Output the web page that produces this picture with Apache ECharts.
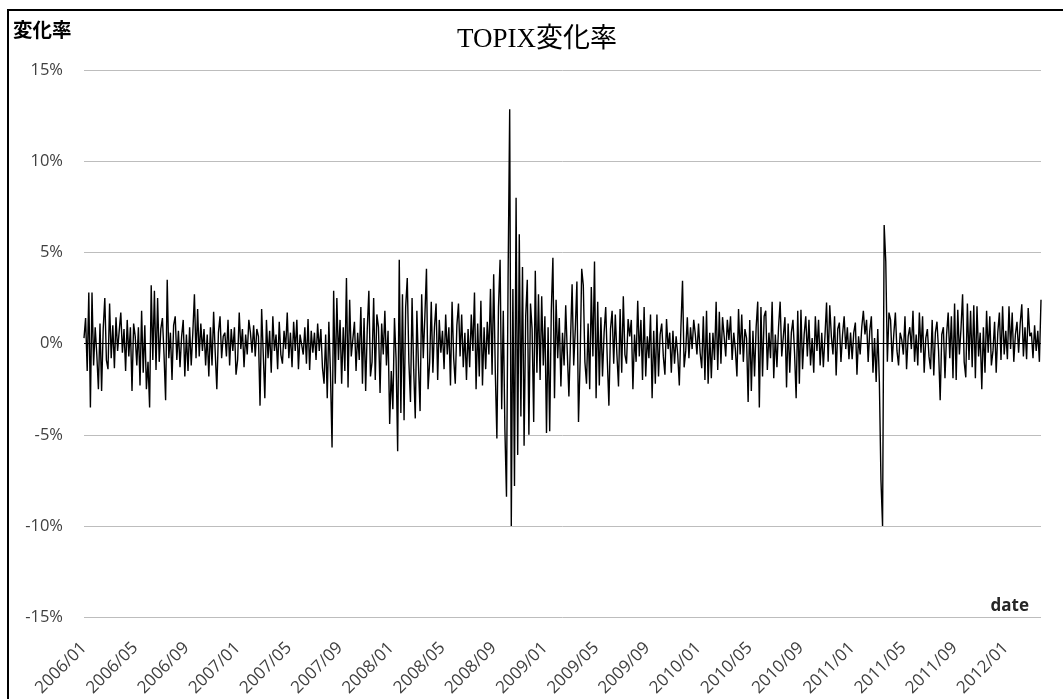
<!DOCTYPE html>
<html>
<head>
<meta charset="utf-8">
<script src="https://cdn.jsdelivr.net/npm/echarts@6/dist/echarts.min.js"></script>
<style>
html,body{margin:0;padding:0;background:#fff;}
#chart{width:1063px;height:699px;}
</style>
</head>
<body>
<div id="chart"></div>
<script>
const v2006 = [
 0.3, 1.4, -1.5, 2.8, -3.5, 2.8, -1.2, 0.9,
 -0.6, -2.5, 1.1, -2.6, 0.8, 2.5, -0.9, -1.4,
 2.2, -0.8, 1.0, -1.35, 1.45, -0.4, 0.7, 1.7,
 -0.5, 0.8, -1.5, 1.3, -0.7, 0.9, -2.6, 1.1,
 0.4, -1.2, 0.9, -2.3, 1.8, -1.6, 1.0, -2.5,
 -1.0, -3.5, 3.2, -0.9, 2.9, -1.45, 2.5, -1.0,
 0.8, 1.4, -0.6, -3.1, 3.5, -0.8, 0.6, -2.0,
 1.0, 1.5, -0.9, 0.7, -1.3, 0.4, 1.3, -1.8,
 0.5, -1.5, 0.9, -1.2, 0.6, 2.7, -0.8, 1.9,
 -0.7, 1.1, -0.4, 0.8, -1.2, 0.5, -1.8, 0.9,
 -1.2, 1.75, -0.5, -2.5, 0.6, 1.5, -0.8, 0.4,
 0.6, -0.7, 1.3, -1.2, 0.8, -0.4, 0.9, -1.7
];
const v2007 = [
 -0.9, 1.7, -0.3, 0.8, -1.3, 0.5, -0.6, 1.3,
 0.6, -0.5, 1.0, -0.7, 0.8, 0.4, -3.4, 1.9,
 1.8, -3.0, 1.3, -0.8, 0.7, -1.6, 1.5, -0.4,
 0.5, -1.4, 1.2, -0.6, -1.1, 0.7, -0.3, 1.7,
 -0.8, 0.6, -1.3, 1.2, -0.4, 1.3, -1.4, 0.5,
 0.4, -0.6, 0.9, -1.1, 1.35, -1.45, 0.7, -0.5,
 0.6, -0.9, 1.1, -0.4, 0.8, -1.3, -2.2, 0.5,
 -3.0, 1.2, -1.6, -5.7, 2.9, -2.2, 2.5, -0.9,
 1.3, -2.2, 0.9, -1.5, 3.6, -2.4, 2.4, -0.7,
 -0.8, 1.2, -1.5, 0.6, -0.9, 2.0, -2.2, 1.4,
 -2.6, 0.8, 2.9, -1.8, -1.0, 2.5, -2.0, 1.6,
 0.9, -2.7, 1.1, -0.6, 1.8, -1.2, 0.7, -4.4
];
const v2008 = [
 -1.5, -3.6, 1.4, -0.8, -5.9, 4.6, -3.8, 2.7,
 -4.2, 2.0, 3.6, -1.0, -3.2, 2.5, -1.4, -4.1,
 1.8, -1.2, -3.7, 2.7, -0.8, 1.5, 4.1, -2.5,
 -1.0, 2.3, -1.6, 0.9, 2.2, -2.0, 1.3, -0.5,
 0.7, -1.4, 1.6, -0.6, 0.9, -2.3, 2.3, -0.8,
 -2.2, 1.0, 2.2, -0.7, 1.6, -1.3, 0.6, -2.0,
 0.8, -1.3, 1.6, -0.4, 2.8, -2.5, 1.1, -1.8,
 2.35, -2.3, 0.9, -1.4, 1.2, -0.6, 3.0, -1.7,
 3.8, -1.5, -5.2, 2.0, 4.6, -3.6, 1.8, -4.7,
 -8.4, 3.6, 12.85, -10.0, 3.0, -7.8, 8.0, -6.1,
 6.0, -4.0, 4.2, -5.6, 1.5, 3.5, -5.0, 2.2,
 0.8, -4.3, 4.0, -1.6, 2.7, -2.0, 2.6, -1.2
];
const v2009 = [
 1.5, -4.9, 0.9, -4.8, 1.8, 4.7, -3.0, 2.4,
 -0.8, 1.4, -2.35, 0.6, -1.2, 2.1, -0.5, -2.9,
 -3.0, 3.25, -1.2, 0.8, 3.4, -4.3, -1.0, 4.1,
 3.2, -1.0, -2.2, 1.1, -2.5, 3.1, -0.7, 4.5,
 -3.0, 2.3, -2.3, 1.45, -1.8, 0.6, 2.0, -0.9,
 -3.4, 0.8, 1.8, -1.1, 1.6, -0.6, -2.35, 1.9,
 -1.6, 2.6, -0.6, -1.1, 1.35, 0.4, 1.3, -2.5,
 0.5, -1.0, 2.35, -0.7, 1.3, -2.0, 2.0, -1.8,
 0.4, -0.8, 1.6, -3.0, 0.7, -2.2, 1.6, -1.8,
 0.5, 1.1, -0.7, -1.7, 1.35, -0.3, 0.6, -1.6,
 0.7, -1.1, 0.4, -0.6, -2.3, 0.9, 3.45, -1.3,
 -0.4, 1.45, -0.8, 0.9, -0.3, 1.3, 0.5, -0.6
];
const v2010 = [
 1.1, -0.5, -1.35, 1.5, -2.0, 1.8, -2.2, 0.6,
 -1.9, 0.6, -0.9, 2.3, -1.45, 1.75, -1.1, 1.45,
 0.4, -0.7, 1.3, 0.2, 1.5, -0.9, 0.6, -0.3,
 -1.8, 1.9, -0.6, 1.6, -1.0, 0.8, 0.3, -3.2,
 1.3, -2.6, 0.7, -1.8, 0.9, 2.3, -3.5, 2.0,
 -1.8, 1.5, 1.8, -1.45, 0.6, -0.8, 2.3, -1.9,
 0.5, -1.3, 0.9, 2.3, -0.7, 0.4, 1.45, -2.4,
 1.1, -1.6, 0.6, 1.3, -0.5, -3.0, 1.8, -2.2,
 1.85, -1.4, 0.5, 1.5, -0.7, 1.3, -1.2, 0.3,
 -1.6, 1.5, -0.4, 1.3, -1.2, 0.6, -1.3, 0.4,
 2.25, -1.0, 2.1, 0.4, -0.6, 1.5, -1.75, 0.8,
 1.15, -1.0, 0.5, 1.5, -0.3, 0.9, -0.85, 0.6
];
const v2011 = [
 -0.85, 0.6, 1.15, -1.7, 0.4, -0.6, 0.9, 1.8,
 0.5, 1.3, -1.0, 0.7, 1.5, -1.6, 0.3, -2.1,
 0.8, -2.1, -7.5, -10.0, 6.5, 4.5, -1.0, 1.7,
 1.3, -1.0, 0.5, 1.7, -0.4, -1.2, 0.6, 0.2,
 -0.6, 1.5, -1.4, 0.4, 0.9, -0.3, 1.8, -1.0,
 0.5, -1.2, 1.7, -0.5, 1.5, -1.6, 0.3, 0.8,
 -0.7, -1.4, 1.3, -1.75, 0.6, 1.2, -0.4, -3.1,
 0.5, 0.9, -1.9, 0.5, 1.7, -0.8, 1.5, -1.9,
 2.2, -2.0, 1.85, -0.6, 0.8, 2.7, -1.0, -1.85,
 2.2, -0.9, 1.8, -1.3, 2.1, -1.9, 2.05, -0.7,
 0.6, -2.5, 0.9, -1.6, 1.8, -0.5, 1.5, -1.2,
 -0.4, 1.2, -1.6, 0.6, 1.7, -0.9, 2.05, -0.6
];
const v2012 = [
 0.7, -0.85, 2.05, -0.3, 1.7, -1.0, 0.5, 1.2,
 -0.5, 1.1, 2.15, -0.7, 0.9, -0.85, 1.95, 0.4,
 0.6, -0.8, 1.0, -0.4, 0.7, -1.0, 2.4
];
const tickLabels = ['2006/01','2006/05','2006/09','2007/01','2007/05','2007/09','2008/01','2008/05','2008/09',
  '2009/01','2009/05','2009/09','2010/01','2010/05','2010/09','2011/01','2011/05','2011/09','2012/01'];
const yTicks = [-15, -10, -5, 0, 5, 10, 15];
const titleText = 'TOPIX変化率';
const yName = '変化率';
const xName = 'date';

const PER_MONTH = 8;
const values = [].concat(v2006, v2007, v2008, v2009, v2010, v2011, v2012);
const categories = values.map((_, i) => {
  const m = Math.floor(i / PER_MONTH);
  const y = 2006 + Math.floor(m / 12);
  const mo = (m % 12) + 1;
  return y + '/' + (mo < 10 ? '0' + mo : mo) + '#' + (i % PER_MONTH);
});

const chart = echarts.init(document.getElementById('chart'), null, {renderer: 'canvas'});
const lblFont = '"Open Sans", "Noto Sans", sans-serif';
chart.setOption({
  backgroundColor: '#ffffff',
  animation: false,
  grid: {left: 84, right: 22, top: 70, bottom: 76, containLabel: false},
  xAxis: {
    type: 'category',
    data: categories,
    boundaryGap: false,
    axisLine: {show: false, onZero: false},
    axisTick: {show: false},
    splitLine: {show: false},
    axisLabel: {
      interval: (idx, val) => val.endsWith('#0') && tickLabels.indexOf(val.split('#')[0]) >= 0,
      formatter: (val) => val.split('#')[0],
      rotate: 45,
      margin: 28,
      fontSize: 17,
      fontFamily: lblFont,
      color: '#404040'
    }
  },
  yAxis: {
    type: 'value',
    min: yTicks[0],
    max: yTicks[yTicks.length - 1],
    interval: 5,
    axisLine: {show: false},
    axisTick: {show: false},
    splitLine: {lineStyle: {color: '#bdbdbd', width: 1}},
    axisLabel: {
      formatter: '{value}%',
      margin: 21,
      fontSize: 16.5,
      fontFamily: lblFont,
      color: '#404040'
    }
  },
  series: [{
    type: 'line',
    data: values,
    showSymbol: false,
    symbol: 'none',
    lineStyle: {color: '#000000', width: 1.4},
    z: 3,
    markLine: {
      silent: true,
      symbol: 'none',
      label: {show: false},
      lineStyle: {color: '#000000', width: 1, type: 'solid'},
      data: [{yAxis: 0}],
      z: 2
    }
  }],
  graphic: [
    {type: 'rect', shape: {x: 8, y: 10, width: 1100, height: 750},
     style: {fill: 'none', stroke: '#000000', lineWidth: 2}, silent: true},
    {type: 'text', x: 537, y: 40,
     style: {text: titleText, fontSize: 27, fontFamily: '"Liberation Serif", "Noto Sans CJK JP", serif',
             fill: '#000000', align: 'center', verticalAlign: 'middle'}},
    {type: 'text', x: 13, y: 30,
     style: {text: yName, fontSize: 19.5, fontWeight: 'bold', fontFamily: '"Noto Sans CJK JP", sans-serif',
             fill: '#000000', align: 'left', verticalAlign: 'middle'}},
    {type: 'text', x: 1029, y: 606,
     style: {text: xName, fontSize: 17, fontWeight: 'bold', fontFamily: lblFont,
             fill: '#262626', align: 'right', verticalAlign: 'middle'}}
  ]
});
</script>
</body>
</html>
